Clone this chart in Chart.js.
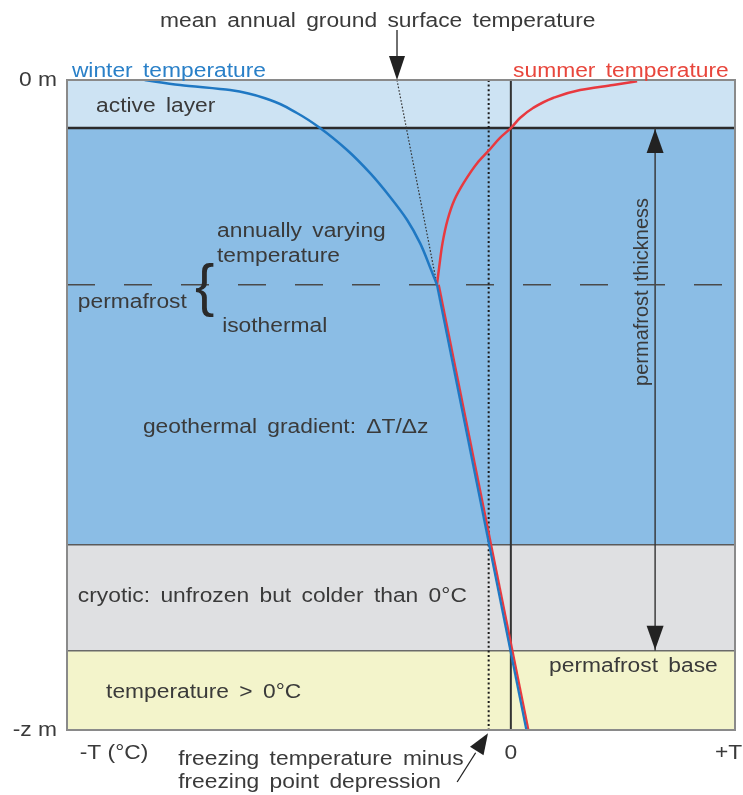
<!DOCTYPE html>
<html>
<head>
<meta charset="utf-8">
<script src="https://cdn.jsdelivr.net/npm/chart.js@4.4.1/dist/chart.umd.min.js"></script>
<style>
  html, body { margin: 0; padding: 0; background: #ffffff; }
  #wrap { width: 743px; height: 795px; position: relative; }
</style>
</head>
<body>
<div id="wrap"><canvas id="c"></canvas></div>
<script>
// Depth runs from 0 (ground surface, "0 m") to 100 (bottom of section, "-z m").
// Temperature is schematic: 0 = 0 °C, negative = colder.

// Ground layers (boundaries by depth)
const layerDepths = [0, 7.4, 71.5, 87.8, 100];
const layerNames  = ['active layer', 'permafrost', 'cryotic', 'above 0 °C'];
const layerColors = ['#cde3f3', '#8bbde5', '#dfe0e2', '#f3f4cb'];
const layerEdgeColors = ['#2b2b2b', '#5a5a5a', '#6a6a6a'];
const layerEdgeWidths = [2.5, 1.5, 1.5];

// Winter temperature envelope (annually varying part)
const winterDepth = [0, 0.77, 1.54, 3.08, 5.08, 7.38, 10.77, 14.3, 18.0, 21.5, 25.1, 28.8, 31.5];
const winterTemp  = [-16.5, -14.9, -12.65, -10.85, -9.64, -8.6, -7.38, -6.35, -5.44, -4.68, -4.09, -3.64, -3.33];

// Summer temperature envelope (annually varying part)
const summerDepth = [0.2, 0.77, 1.54, 2.77, 4.31, 5.85, 7.4, 8.9, 10.8, 12.8, 15.8, 18.5, 21.5, 25.1, 28.8, 31.5];
const summerTemp  = [5.69, 4.61, 3.12, 1.9, 1.0, 0.41, 0, -0.49, -0.98, -1.52, -2.12, -2.55, -2.85, -3.08, -3.23, -3.33];

// Geothermal gradient below the depth of zero annual amplitude
const gradientDepth      = [31.5, 100];
const gradientWinterTemp = [-3.33, 0.70];
const gradientSummerTemp = [-3.25, 0.79];

// Mean annual ground surface temperature projection
const magstDepth = [0, 31.5];
const magstTemp  = [-5.13, -3.33];

const freezingTemp   = -1.0;   // freezing temperature minus freezing point depression
const zeroTemp       = 0;
const isothermDepth  = 31.5;   // top of isothermal permafrost
const thicknessTemp  = 6.5;    // position of the permafrost thickness arrow
const thicknessDepth = [7.4, 87.8];

// Axis labels
const yTickDepths = [0, 100];
const yTickLabels = ['0 m', '-z m'];
const xTickTemps  = [-17.88, 0, 9.81];
const xTickLabels = ['-T (\u00B0C)', '0', '+T'];

const BLUE = '#1f78c3';
const RED  = '#e8393f';
const INK  = '#3a3a3a';

// Annotations: anchored by temperature (x) and depth (d)
const notes = [
  { t: 'mean annual ground surface temperature', x: -15.81, d: -8.15 },
  { t: 'winter temperature', x: -19.78, d: -0.46, c: '#2a80c8' },
  { t: 'summer temperature', x: 0.10, d: -0.46, c: '#e8463c' },
  { t: 'active layer', x: -18.69, d: 4.92 },
  { t: 'annually varying', x: -13.24, d: 24.15 },
  { t: 'temperature', x: -13.24, d: 28.0 },
  { t: 'permafrost', x: -19.51, d: 35.08 },
  { t: 'isothermal', x: -13.01, d: 38.77 },
  { t: 'geothermal gradient: \u0394T/\u0394z', x: -16.58, d: 54.3 },
  { t: 'cryotic: unfrozen but colder than 0\u00B0C', x: -19.51, d: 80.3 },
  { t: 'temperature > 0\u00B0C', x: -18.24, d: 95.08 },
  { t: 'permafrost base', x: 1.72, d: 91.08 },
  { t: 'freezing temperature minus', x: -14.99, d: 105.4 },
  { t: 'freezing point depression', x: -14.99, d: 108.9 },
  { t: 'permafrost thickness', x: 6.2, d: 32.6, rot: true, align: 'center' }
];
const braceAnchor = { x: -14.23, d: 34.6 };
const magstArrowTop = -7.7;
const freezingArrow = { x0: -2.42, d0: 108, x1: -1.03, d1: 100.5 };

const pts = (xs, ds) => xs.map((x, i) => ({ x: x, y: ds[i] }));
const vline = (x, d0, d1) => [{ x: x, y: d0 }, { x: x, y: d1 }];
const hline = (d, x0, x1) => [{ x: x0, y: d }, { x: x1, y: d }];

const FONT = '20px "Liberation Sans", Arial, Helvetica, sans-serif';

function drawText(ctx, t, px, py, opts) {
  ctx.save();
  ctx.translate(px, py);
  if (opts.rot) {
    ctx.rotate(-Math.PI / 2);
  } else {
    ctx.scale(1.14, 1);
  }
  ctx.font = FONT;
  ctx.fillStyle = opts.color || INK;
  ctx.textAlign = opts.align || 'left';
  ctx.textBaseline = opts.baseline || 'alphabetic';
  if ('wordSpacing' in ctx) ctx.wordSpacing = (opts.spacing == null ? 3.5 : opts.spacing) + 'px';
  ctx.fillText(t, 0, 0);
  ctx.restore();
}

function arrowHead(ctx, x0, y0, x1, y1, len, hw, color) {
  const a = Math.atan2(y1 - y0, x1 - x0);
  ctx.save();
  ctx.translate(x1, y1);
  ctx.rotate(a);
  ctx.beginPath();
  ctx.moveTo(0, 0);
  ctx.lineTo(-len, hw);
  ctx.lineTo(-len, -hw);
  ctx.closePath();
  ctx.fillStyle = color;
  ctx.fill();
  ctx.restore();
}

const layersPlugin = {
  id: 'layers',
  beforeDatasetsDraw(chart) {
    const { ctx, chartArea: a, scales: { y } } = chart;
    ctx.save();
    for (let i = 0; i < layerColors.length; i++) {
      const top = y.getPixelForValue(layerDepths[i]);
      const bot = y.getPixelForValue(layerDepths[i + 1]);
      ctx.fillStyle = layerColors[i];
      ctx.fillRect(a.left, top, a.right - a.left, bot - top);
    }
    for (let i = 1; i < layerDepths.length - 1; i++) {
      const py = y.getPixelForValue(layerDepths[i]);
      ctx.beginPath();
      ctx.moveTo(a.left, py);
      ctx.lineTo(a.right, py);
      ctx.strokeStyle = layerEdgeColors[i - 1];
      ctx.lineWidth = layerEdgeWidths[i - 1];
      ctx.stroke();
    }
    ctx.restore();
  },
  afterDatasetsDraw(chart) {
    const { ctx, chartArea: a, scales: { x, y } } = chart;
    ctx.save();
    // frame
    ctx.strokeStyle = '#8a8a8a';
    ctx.lineWidth = 2;
    ctx.strokeRect(a.left, a.top, a.right - a.left, a.bottom - a.top);

    // thickness arrow heads
    const tx = x.getPixelForValue(thicknessTemp);
    const ty0 = y.getPixelForValue(thicknessDepth[0]);
    const ty1 = y.getPixelForValue(thicknessDepth[1]);
    arrowHead(ctx, tx, ty0 + 30, tx, ty0 + 1, 24, 8.5, '#222');
    arrowHead(ctx, tx, ty1 - 30, tx, ty1 - 1, 24, 8.5, '#222');

    // mean annual ground surface temperature arrow
    const mx = x.getPixelForValue(magstTemp[0]);
    const my0 = y.getPixelForValue(magstArrowTop);
    const my1 = y.getPixelForValue(magstDepth[0]);
    ctx.beginPath();
    ctx.moveTo(mx, my0);
    ctx.lineTo(mx, my1 - 20);
    ctx.strokeStyle = '#222';
    ctx.lineWidth = 1.3;
    ctx.stroke();
    arrowHead(ctx, mx, my0, mx, my1, 24, 8, '#222');

    // freezing point depression arrow
    const fx0 = x.getPixelForValue(freezingArrow.x0), fy0 = y.getPixelForValue(freezingArrow.d0);
    const fx1 = x.getPixelForValue(freezingArrow.x1), fy1 = y.getPixelForValue(freezingArrow.d1);
    ctx.beginPath();
    ctx.moveTo(fx0, fy0);
    ctx.lineTo(fx0 + (fx1 - fx0) * 0.6, fy0 + (fy1 - fy0) * 0.6);
    ctx.strokeStyle = '#222';
    ctx.lineWidth = 1.3;
    ctx.stroke();
    arrowHead(ctx, fx0, fy0, fx1, fy1, 21, 8, '#222');

    // brace grouping the two permafrost zones
    ctx.font = '58px "Liberation Sans", Arial, sans-serif';
    ctx.fillStyle = '#2a2a2a';
    ctx.textAlign = 'left';
    ctx.textBaseline = 'alphabetic';
    ctx.fillText('{', x.getPixelForValue(braceAnchor.x), y.getPixelForValue(braceAnchor.d));

    // annotations
    notes.forEach(n => {
      drawText(ctx, n.t, x.getPixelForValue(n.x), y.getPixelForValue(n.d),
        { color: n.c, rot: n.rot, align: n.align });
    });

    // axis labels
    yTickDepths.forEach((d, i) => {
      drawText(ctx, yTickLabels[i], a.left - 10, y.getPixelForValue(d),
        { align: 'right', baseline: 'middle', spacing: 0 });
    });
    xTickTemps.forEach((t, i) => {
      drawText(ctx, xTickLabels[i], x.getPixelForValue(t), a.bottom + 29,
        { align: 'center', spacing: 0 });
    });
    ctx.restore();
  }
};

const line = (data, color, width, extra) => Object.assign({
  data: data,
  showLine: true,
  borderColor: color,
  borderWidth: width,
  pointRadius: 0,
  pointHoverRadius: 0,
  fill: false,
  tension: 0
}, extra || {});

// temperature profiles are single-valued in depth, so interpolate along the depth axis
const profile = { indexAxis: 'y', cubicInterpolationMode: 'monotone' };

new Chart(document.getElementById('c'), {
  type: 'scatter',
  data: {
    datasets: [
      line(pts(winterTemp, winterDepth), BLUE, 2.5, Object.assign({ label: 'winter temperature' }, profile)),
      line(pts(summerTemp, summerDepth), RED, 2.5, Object.assign({ label: 'summer temperature' }, profile)),
      line(pts(gradientWinterTemp, gradientDepth), BLUE, 2.3, { label: 'winter gradient' }),
      line(pts(gradientSummerTemp, gradientDepth), RED, 2.3, { label: 'summer gradient' }),
      line(vline(zeroTemp, layerDepths[0], layerDepths[4]), '#333333', 2, { label: '0 °C' }),
      line(vline(freezingTemp, layerDepths[0], layerDepths[4]), '#1a1a1a', 2, { label: 'freezing', borderDash: [2, 2.6] }),
      line(pts(magstTemp, magstDepth), '#333333', 1.2, { label: 'MAGST', borderDash: [1.6, 1.8] }),
      line(hline(isothermDepth, -20, 10.1), '#4a4a4a', 1.3, { label: 'isotherm', borderDash: [28, 29] }),
      line(vline(thicknessTemp, thicknessDepth[0], thicknessDepth[1]), '#333333', 1.4, { label: 'thickness' })
    ]
  },
  options: {
    responsive: true,
    maintainAspectRatio: false,
    animation: false,
    layout: { padding: { left: 67, right: 8, top: 80, bottom: 65 } },
    scales: {
      x: { type: 'linear', min: -20, max: 10.1, display: false },
      y: { type: 'linear', min: 0, max: 100, reverse: true, display: false }
    },
    plugins: { legend: { display: false }, tooltip: { enabled: false } },
    events: []
  },
  plugins: [layersPlugin]
});
</script>
</body>
</html>
